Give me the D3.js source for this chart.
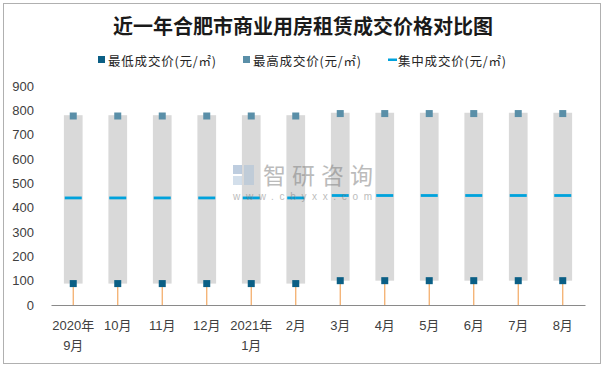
<!DOCTYPE html>
<html>
<head>
<meta charset="utf-8">
<script src="https://cdn.jsdelivr.net/npm/d3@7/dist/d3.min.js"></script>
<style>
  html, body { margin: 0; padding: 0; background: #fff; }
  svg text { font-family: "Liberation Sans", "Noto Sans CJK SC", sans-serif; }
</style>
</head>
<body>
<svg id="chart" width="604" height="366"></svg>
<script>
const categories = ["2020年|9月","10月","11月","12月","2021年|1月","2月","3月","4月","5月","6月","7月","8月"];
const lowValues  = [88, 88, 88, 88, 88, 88, 100, 100, 100, 100, 100, 100];
const highValues = [780, 780, 780, 780, 780, 780, 790, 790, 790, 790, 790, 790];
const midValues  = [440, 440, 440, 440, 440, 440, 450, 450, 450, 450, 450, 450];
const yTicks = [0, 100, 200, 300, 400, 500, 600, 700, 800, 900];
const legendLabels = ["最低成交价(元/㎡)", "最高成交价(元/㎡)", "集中成交价(元/㎡)"];
const titleText = "近一年合肥市商业用房租赁成交价格对比图";

const svg = d3.select("#chart");
const W = 604, H = 366;

// outer border
svg.append("rect").attr("x", 3.5).attr("y", 3.5).attr("width", W - 7).attr("height", H - 6)
  .attr("fill", "#fff").attr("stroke", "#b0b0b0").attr("stroke-width", 1);

// title
svg.append("text").attr("x", 303).attr("y", 25).attr("text-anchor", "middle")
  .attr("dominant-baseline", "central")
  .style("font-family", "'Noto Sans CJK SC', sans-serif")
  .style("font-size", "20px").style("font-weight", "bold").attr("fill", "#1a1a1a")
  .text(titleText);

const x = d3.scaleBand().domain(categories).range([51, 585]).padding(0);
const y = d3.scaleLinear().domain([0, 900]).range([305, 86]);

const colLow = "#0b5f85", colHigh = "#5a8fa8", colMid = "#00a2dc", colRange = "#d9d9d9", colDrop = "#f2a862";

// y axis labels
const yAxis = d3.axisLeft(y).tickValues(yTicks).tickSize(0).tickPadding(0).tickFormat(d3.format("d"));
const yg = svg.append("g").attr("transform", "translate(34,0)").call(yAxis);
yg.select(".domain").remove();
yg.selectAll("text").style("font-size", "13px").attr("fill", "#404040")
  .style("font-family", "'Liberation Sans', sans-serif");

// range bars
const bw = 18.7;
const idx = d3.range(categories.length);
svg.append("g").selectAll("rect").data(idx).join("rect")
  .attr("x", i => x(categories[i]) + x.bandwidth() / 2 - bw / 2)
  .attr("y", i => y(highValues[i]))
  .attr("width", bw)
  .attr("height", i => y(lowValues[i]) - y(highValues[i]))
  .attr("fill", colRange);

// drop lines
svg.append("g").selectAll("line").data(idx).join("line")
  .attr("x1", i => x(categories[i]) + x.bandwidth() / 2)
  .attr("x2", i => x(categories[i]) + x.bandwidth() / 2)
  .attr("y1", i => y(lowValues[i]))
  .attr("y2", y(0))
  .attr("stroke", colDrop).attr("stroke-width", 1.2);

// x axis
const xAxis = d3.axisBottom(x).tickSize(0).tickFormat("");
const xg = svg.append("g").attr("transform", `translate(0,${y(0)})`).call(xAxis);
xg.select(".domain").attr("stroke", "#8a8a8a").attr("stroke-width", 1.2);

// x labels (two lines)
const xl = svg.append("g");
categories.forEach(c => {
  const parts = c.split("|");
  const t = xl.append("text").attr("x", x(c) + x.bandwidth() / 2).attr("y", 325)
    .attr("text-anchor", "middle").attr("dominant-baseline", "central")
    .style("font-size", "13px").attr("fill", "#404040")
    .style("font-family", "'Liberation Sans', 'Noto Sans CJK SC', sans-serif");
  parts.forEach((p, k) => {
    t.append("tspan").attr("x", x(c) + x.bandwidth() / 2).attr("dy", k === 0 ? 0 : 20).text(p);
  });
});

// mid markers
const mw = 17;
svg.append("g").selectAll("rect").data(idx).join("rect")
  .attr("x", i => x(categories[i]) + x.bandwidth() / 2 - mw / 2)
  .attr("y", i => y(midValues[i]) - 1.4)
  .attr("width", mw).attr("height", 2.8).attr("fill", colMid);

// high markers
const ms = 7;
svg.append("g").selectAll("rect").data(idx).join("rect")
  .attr("x", i => x(categories[i]) + x.bandwidth() / 2 - ms / 2)
  .attr("y", i => y(highValues[i]) - ms / 2 + 0.8)
  .attr("width", ms).attr("height", ms).attr("fill", colHigh);

// low markers
svg.append("g").selectAll("rect").data(idx).join("rect")
  .attr("x", i => x(categories[i]) + x.bandwidth() / 2 - ms / 2)
  .attr("y", i => y(lowValues[i]) - ms / 2)
  .attr("width", ms).attr("height", ms).attr("fill", colLow);

// legend
const lg = svg.append("g");
const legX = [98, 243, 388];
const legCols = [colLow, colHigh, colMid];
legendLabels.forEach((lab, i) => {
  if (i < 2) {
    lg.append("rect").attr("x", legX[i]).attr("y", 56).attr("width", 7).attr("height", 7).attr("fill", legCols[i]);
  } else {
    lg.append("rect").attr("x", legX[i]).attr("y", 58.5).attr("width", 9).attr("height", 2.5).attr("fill", legCols[i]);
  }
  lg.append("text").attr("x", legX[i] + 10).attr("y", 60).attr("dominant-baseline", "central")
    .style("font-family", "'Noto Sans CJK SC', sans-serif")
    .style("font-size", "12.5px").attr("fill", "#262626")
    .attr("textLength", 108).attr("lengthAdjust", "spacing").text(lab);
});

// watermark (on top, semi-transparent)
const wm = svg.append("g").attr("opacity", 0.5);
wm.append("rect").attr("x", 233).attr("y", 165).attr("width", 9).attr("height", 9).attr("fill", "#7f9cc0");
wm.append("rect").attr("x", 244).attr("y", 165).attr("width", 10).attr("height", 20).attr("fill", "#a9c0d8");
wm.append("rect").attr("x", 233).attr("y", 176).attr("width", 9).attr("height", 9).attr("fill", "#a9c0d8");
wm.append("text").attr("x", 263).attr("y", 174).attr("dominant-baseline", "central")
  .style("font-family", "'Noto Sans CJK SC', sans-serif").style("font-size", "23px")
  .attr("fill", "#7a7a7a").attr("textLength", 110).attr("lengthAdjust", "spacing").text("智研咨询");
wm.append("text").attr("x", 233).attr("y", 196).attr("dominant-baseline", "central")
  .style("font-size", "10px").attr("fill", "#7a7a7a").attr("textLength", 139).attr("lengthAdjust", "spacing")
  .text("www.chyxx.com");
</script>
</body>
</html>
